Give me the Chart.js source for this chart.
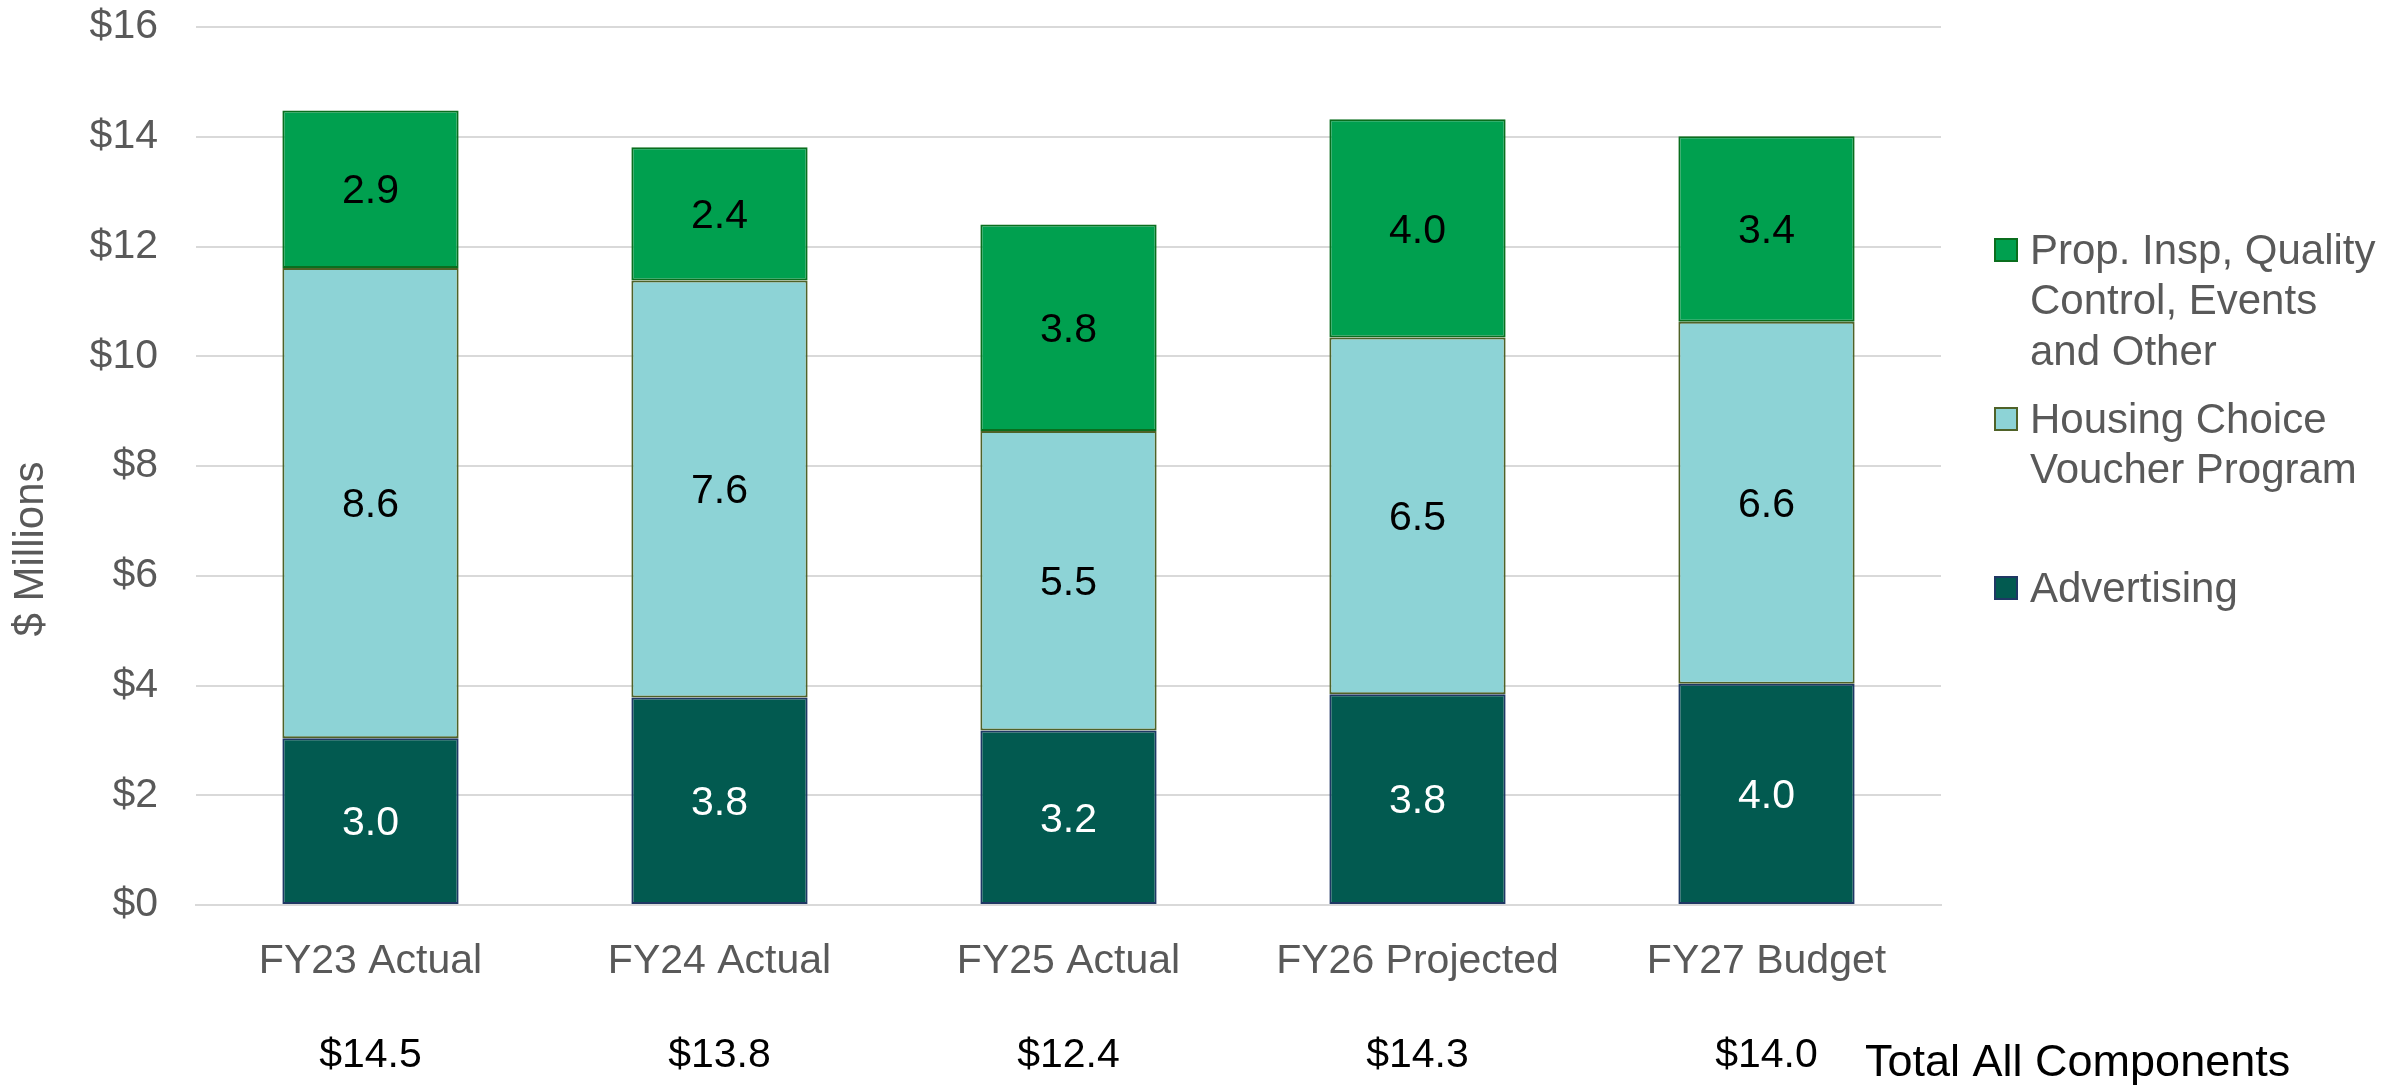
<!DOCTYPE html>
<html>
<head>
<meta charset="utf-8">
<script src="https://cdn.jsdelivr.net/npm/chart.js@4/dist/chart.umd.min.js"></script>
<style>
  html, body { margin: 0; padding: 0; background: #ffffff; }
  #wrap { width: 2405px; height: 1088px; position: relative; }
</style>
</head>
<body>
<div id="wrap"><canvas id="c" width="2405" height="1088"></canvas></div>
<script>
// ---- data ----
const categories = ['FY23 Actual', 'FY24 Actual', 'FY25 Actual', 'FY26 Projected', 'FY27 Budget'];
const advertising = [3.04, 3.78, 3.18, 3.84, 4.03];
const housingChoice = [8.57, 7.60, 5.46, 6.50, 6.60];
const propInsp = [2.87, 2.43, 3.76, 3.98, 3.38];
const seriesNames = ['Advertising', 'Housing Choice Voucher Program', 'Prop. Insp, Quality Control, Events and Other'];
const legendLines = [['Prop. Insp, Quality', 'Control, Events', 'and Other'], ['Housing Choice', 'Voucher Program'], ['Advertising']];
const yMin = 0, yMax = 16, yStep = 2;
const yTitle = '$ Millions';
const totalsTitle = 'Total All Components';

const FONT = '"Liberation Sans", Arial, Helvetica, sans-serif';
const GRAY = '#595959';
const fills = ['#025A50', '#8DD3D6', '#00A04F'];
const borders = ['#1F3864', '#4F6228', '#0A6E1E'];
const labelColors = ['#ffffff', '#000000', '#000000'];

const totals = categories.map((_, i) => advertising[i] + housingChoice[i] + propInsp[i]);

const overlay = {
  id: 'overlay',
  afterDatasetsDraw(chart) {
    const ctx = chart.ctx;
    ctx.save();
    ctx.font = '41px ' + FONT;
    ctx.textAlign = 'center';
    ctx.textBaseline = 'middle';
    chart.data.datasets.forEach((ds, di) => {
      const meta = chart.getDatasetMeta(di);
      meta.data.forEach((bar, i) => {
        ctx.fillStyle = labelColors[di];
        ctx.fillText(ds.data[i].toFixed(1), bar.x, (bar.y + bar.base) / 2 + 3);
      });
    });
    ctx.restore();
  },
  afterDraw(chart) {
    const ctx = chart.ctx;
    const xs = chart.scales.x;
    ctx.save();
    // totals row
    ctx.font = '41px ' + FONT;
    ctx.fillStyle = '#000000';
    ctx.textAlign = 'center';
    ctx.textBaseline = 'middle';
    totals.forEach((t, i) => {
      ctx.fillText('$' + t.toFixed(1), xs.getPixelForValue(i), 1056);
    });
    ctx.font = '45px ' + FONT;
    ctx.textAlign = 'left';
    ctx.fillText(totalsTitle, 1865, 1064);
    // y-axis title
    ctx.save();
    ctx.translate(31, 549);
    ctx.rotate(-Math.PI / 2);
    ctx.font = '42px ' + FONT;
    ctx.fillStyle = GRAY;
    ctx.textAlign = 'center';
    ctx.textBaseline = 'middle';
    ctx.fillText(yTitle, 0, 0);
    ctx.restore();
    // legend (reversed order)
    const legendTop = [250, 419, 588];
    const lineH = 50.5;
    const order = [2, 1, 0];
    ctx.font = '42px ' + FONT;
    ctx.textAlign = 'left';
    ctx.textBaseline = 'middle';
    order.forEach((di, k) => {
      const cy = legendTop[k];
      ctx.fillStyle = fills[di];
      ctx.fillRect(1994, cy - 12, 24, 24);
      ctx.strokeStyle = borders[di];
      ctx.lineWidth = 2;
      ctx.strokeRect(1995, cy - 11, 22, 22);
      ctx.fillStyle = GRAY;
      legendLines[k].forEach((ln, j) => {
        ctx.fillText(ln, 2030, cy + j * lineH + 2);
      });
    });
    ctx.restore();
  }
};

const seriesData = [advertising, housingChoice, propInsp];
new Chart(document.getElementById('c'), {
  type: 'bar',
  data: {
    labels: categories,
    datasets: seriesData.map((d, i) => ({
      label: seriesNames[i],
      data: d,
      backgroundColor: fills[i],
      borderColor: borders[i],
      borderWidth: 2,
      borderSkipped: false,
      categoryPercentage: 1.0,
      barPercentage: 0.505
    }))
  },
  options: {
    responsive: false,
    devicePixelRatio: 1,
    animation: false,
    layout: { padding: { left: 0, right: 464, top: 27, bottom: 0 } },
    plugins: { legend: { display: false }, tooltip: { enabled: false }, title: { display: false } },
    scales: {
      x: {
        stacked: true,
        grid: { display: false, drawTicks: false },
        border: { display: true, color: '#D9D9D9', width: 2 },
        ticks: { color: GRAY, font: { family: FONT, size: 41 }, padding: 32, maxRotation: 0, autoSkip: false },
        afterFit(scale) { scale.height = 183; scale.paddingLeft = 0; scale.paddingRight = 0; }
      },
      y: {
        stacked: true,
        min: yMin, max: yMax,
        grid: { color: '#D9D9D9', lineWidth: 2, drawTicks: false },
        border: { display: false },
        ticks: {
          stepSize: yStep, color: GRAY, padding: 38,
          font: { family: FONT, size: 41 },
          callback: v => '$' + v
        },
        afterFit(scale) { scale.width = 196; scale.paddingTop = 0; scale.paddingBottom = 0; }
      }
    }
  },
  plugins: [overlay]
});
</script>
</body>
</html>
